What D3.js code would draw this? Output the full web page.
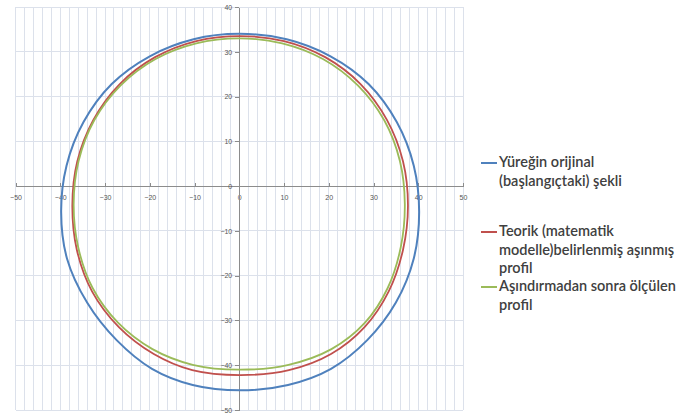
<!DOCTYPE html>
<html>
<head>
<meta charset="utf-8">
<script src="https://cdn.jsdelivr.net/npm/d3@7/dist/d3.min.js"></script>
<style>
  html, body { margin: 0; padding: 0; background: #ffffff; }
  svg { display: block; }
  .tick text { font-family: "Liberation Sans", Arial, sans-serif; }
</style>
</head>
<body>
<svg id="chart" width="679" height="418"></svg>
<script>
// Axis ticks
const xTicks = [-50, -40, -30, -20, -10, 0, 10, 20, 30, 40, 50];
const yTicks = [-50, -40, -30, -20, -10, 0, 10, 20, 30, 40];

// Series names (legend lines)
const seriesNames = [
  ["Yüreğin orijinal", "(başlangıçtaki) şekli"],
  ["Teorik (matematik", "modelle)belirlenmiş aşınmış", "profil"],
  ["Aşındırmadan sonra ölçülen", "profil"]
];

// Original profile (closed loop of x, y points, starting at the top, going left)
const originalProfile = [
  [0, 34.0], [-10.2, 32.8], [-20.0, 29.0], [-28.5, 22.8], [-34.8, 14.3], [-38.6, 4.55],
  [-39.8, -5.8], [-38.5, -16.15], [-34.0, -26.0], [-27.4, -34.4], [-19.5, -40.8], [-10.4, -44.4],
  [0.2, -45.6], [10.9, -44.4], [20.5, -40.8], [28.6, -34.4], [35.0, -26.0], [39.0, -16.15],
  [40.2, -5.8], [39.0, 4.55], [35.2, 14.3], [28.9, 22.8], [20.4, 29.0], [10.6, 32.8]
];

// Theoretical (model) worn profile
const theoreticalProfile = [
  [0.2, 33.5], [-9.6, 32.4], [-18.8, 28.8], [-26.7, 22.8], [-32.6, 14.8], [-36.2, 5.5],
  [-37.3, -4.35], [-36.3, -14.2], [-32.9, -23.5], [-26.9, -31.5], [-19.1, -37.5], [-10.5, -41.1],
  [0.2, -42.2], [11.1, -41.1], [20.5, -37.5], [28.0, -31.5], [33.4, -23.5], [36.6, -14.2],
  [37.7, -4.35], [36.6, 5.5], [33.0, 14.8], [27.1, 22.8], [19.2, 28.8], [10.0, 32.4]
];

// Profile measured after wear
const measuredProfile = [
  [0, 33.0], [-9.6, 31.9], [-18.7, 28.4], [-26.5, 22.5], [-32.4, 14.7], [-35.9, 5.6],
  [-37.0, -4.0], [-36.0, -13.6], [-32.8, -22.7], [-27.1, -30.5], [-19.4, -36.4], [-10.4, -39.9],
  [0, -41.0], [11.0, -39.9], [20.6, -36.4], [28.1, -30.5], [33.2, -22.7], [36.1, -13.6],
  [37.0, -4.0], [35.9, 5.6], [32.4, 14.7], [26.5, 22.5], [18.7, 28.4], [9.6, 31.9]
];

const profiles = [originalProfile, theoreticalProfile, measuredProfile];
const colors = ["#4f81bd", "#c0504d", "#9bbb59"];
const widths = [2, 1.8, 1.8];

const svg = d3.select("#chart");

const x = d3.scaleLinear().domain([-50, 50]).range([15.5, 463]);
const y = d3.scaleLinear().domain([-50, 40]).range([410, 7]);

// Gridlines: minor verticals every 2 units, horizontals at major ticks
const grid = svg.append("g");
grid.selectAll("line.v")
  .data(x.ticks(50))
  .join("line")
  .attr("x1", d => x(d)).attr("x2", d => x(d))
  .attr("y1", y(40)).attr("y2", y(-50))
  .attr("stroke", "#dce1eb").attr("stroke-width", 1)
  .attr("shape-rendering", "crispEdges");
grid.selectAll("line.h")
  .data(yTicks)
  .join("line")
  .attr("x1", x(-50)).attr("x2", x(50))
  .attr("y1", d => y(d)).attr("y2", d => y(d))
  .attr("stroke", "#dce1eb").attr("stroke-width", 1)
  .attr("shape-rendering", "crispEdges");

// Axes crossing at the origin
const xAxis = d3.axisBottom(x).tickValues(xTicks).tickSizeInner(-3).tickSizeOuter(0).tickPadding(9);
const yAxis = d3.axisLeft(y).tickValues(yTicks).tickSizeInner(4).tickSizeOuter(0).tickPadding(3);

const gx = svg.append("g").attr("transform", `translate(0,${y(0)})`).call(xAxis);
const gy = svg.append("g").attr("transform", `translate(${x(0)},0)`).call(yAxis);

[gx, gy].forEach(g => {
  g.select(".domain").attr("stroke", "#8c8c8c").attr("shape-rendering", "crispEdges");
  g.selectAll(".tick line").attr("stroke", "#8c8c8c").attr("shape-rendering", "crispEdges");
  g.selectAll(".tick text").attr("fill", "#555555").attr("font-size", 7);
});

// Profiles
const line = d3.line()
  .x(d => x(d[0]))
  .y(d => y(d[1]))
  .curve(d3.curveCatmullRomClosed.alpha(0.5));

svg.append("g").selectAll("path")
  .data(profiles)
  .join("path")
  .attr("d", line)
  .attr("fill", "none")
  .attr("stroke", (d, i) => colors[i])
  .attr("stroke-width", (d, i) => widths[i]);

// Legend
const legendTop = [167, 236, 291];
const lg = svg.append("g");
seriesNames.forEach((lines, i) => {
  lg.append("line")
    .attr("x1", 481).attr("x2", 497)
    .attr("y1", legendTop[i] - 4).attr("y2", legendTop[i] - 4)
    .attr("stroke", colors[i]).attr("stroke-width", 2);
  lines.forEach((t, j) => {
    lg.append("text")
      .attr("x", 499)
      .attr("y", legendTop[i] + j * 18.5)
      .attr("font-family", "Lato, 'Liberation Sans', sans-serif")
      .attr("font-size", 14.5)
      .attr("font-weight", 600)
      .attr("fill", "#404040")
      .text(t);
  });
});
</script>
</body>
</html>
